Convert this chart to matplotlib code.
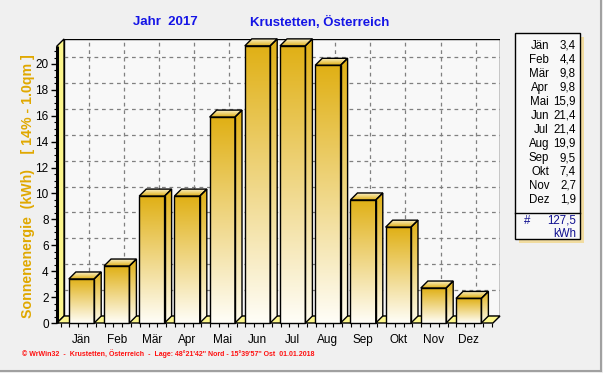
import matplotlib
matplotlib.use("Agg")
import matplotlib.pyplot as plt
import numpy as np
from matplotlib.patches import Polygon, Rectangle
from matplotlib.colors import LinearSegmentedColormap

plt.rcParams['font.family'] = ['Liberation Sans', 'DejaVu Sans']

# data
months = ['Jän', 'Feb', 'Mär', 'Apr', 'Mai', 'Jun', 'Jul', 'Aug', 'Sep', 'Okt', 'Nov', 'Dez']
values = [3.4, 4.4, 9.8, 9.8, 15.9, 21.4, 21.4, 19.9, 9.5, 7.4, 2.7, 1.9]
value_labels = ['3,4', '4,4', '9,8', '9,8', '15,9', '21,4', '21,4', '19,9', '9,5', '7,4', '2,7', '1,9']
total_label = '127,5'
yticks = [0, 2, 4, 6, 8, 10, 12, 14, 16, 18, 20]

W, H = 603, 373
GOLD = '#e0b015'
WALL = '#fcf68c'

fig = plt.figure(figsize=(W / 100, H / 100), dpi=100)
fig.patch.set_facecolor('#f0f0f0')


def fx(x):
    return x / W


def fy(y):
    return 1 - y / H


# axes covers back plane + front plane (pixels 57..500, 39..323)
x0, xmax = -0.696, 11.89
ytop = 21.93
dx, dy = 0.2, 0.54
ax = fig.add_axes([fx(57), fy(323), (500 - 57) / W, (323 - 39) / H])
ax.set_xlim(x0, xmax)
ax.set_ylim(0, ytop)
ax.patch.set_visible(False)
for s in ax.spines.values():
    s.set_visible(False)

# back plane
ax.add_patch(Rectangle((x0 + dx, dy), xmax - x0 - dx, ytop - dy, facecolor='#f8f8f8',
                       edgecolor='black', lw=1, zorder=0))
for v in yticks[1:]:
    ax.plot([x0 + dx, xmax], [v + dy, v + dy], color='#808080', lw=0.9, ls=(0, (3, 3)), zorder=1)
for i in range(len(months)):
    ax.plot([i + dx, i + dx], [dy, ytop], color='#808080', lw=0.9, ls=(0, (3, 3)), zorder=1)

# left wall and floor
ax.add_patch(Polygon([(x0, 0), (x0 + dx, dy), (x0 + dx, ytop), (x0, ytop - dy)],
                     closed=True, facecolor=WALL, edgecolor='black', lw=1, zorder=2, clip_on=False))
ax.add_patch(Polygon([(x0, 0), (xmax - dx, 0), (xmax, dy), (x0 + dx, dy)],
                     closed=True, facecolor=WALL, edgecolor='black', lw=1, zorder=2, clip_on=False))
ax.plot([x0, x0], [0, ytop - dy], color='black', lw=2.2, zorder=6, clip_on=False,
        solid_capstyle='butt')

grad = np.linspace(0, 1, 256).reshape(-1, 1)


def grad_face(verts, c_top, c_bot, z):
    poly = Polygon(verts, closed=True, facecolor='none', edgecolor='black', lw=1,
                   zorder=z + 0.5, clip_on=False)
    ax.add_patch(poly)
    xs = [p[0] for p in verts]
    ys = [p[1] for p in verts]
    cmap = LinearSegmentedColormap.from_list('g', [c_bot, c_top])
    im = ax.imshow(grad, extent=[min(xs), max(xs), min(ys), max(ys)], origin='lower',
                   cmap=cmap, aspect='auto', zorder=z, interpolation='bilinear')
    im.set_clip_box(None)
    im.set_clip_path(poly)


bw = 0.72
for i, v in enumerate(values):
    l, r = i - bw / 2, i + bw / 2
    z = 3 + i * 0.01
    grad_face([(r, 0), (r + dx, dy), (r + dx, v + dy), (r, v)], GOLD, '#fffdf0', z)
    grad_face([(l, 0), (r, 0), (r, v), (l, v)], GOLD, '#fffef8', z)
    grad_face([(l, v), (r, v), (r + dx, v + dy), (l + dx, v + dy)], '#faf0c8', GOLD, z)

ax.set_xlim(x0, xmax)
ax.set_ylim(0, ytop)

# axis ticks
ax.set_yticks(yticks)
ax.set_yticks(np.arange(0, 21.01, 0.5), minor=True)
ax.tick_params(axis='y', which='major', length=4, width=1, pad=2, labelsize=8.5)
ax.tick_params(axis='y', which='minor', length=2, width=0.8)
ax.set_xticks(range(len(months)), months)
ax.set_xticks(np.arange(x0 + 0.1, xmax - dx, 0.25), minor=True)
ax.tick_params(axis='x', which='major', length=0, pad=8, labelsize=8.5)
ax.tick_params(axis='x', which='minor', length=3, width=0.8)

# titles and labels
fig.text(fx(165), fy(22), 'Jahr  2017', color='#1414e6', fontsize=9.5, fontweight='bold',
         ha='center', va='center')
fig.text(fx(250), fy(22), 'Krustetten, Österreich', color='#1414e6', fontsize=9.5,
         fontweight='bold', ha='left', va='center')
fig.text(fx(28), fy(186), 'Sonnenenergie  (kWh)    [ 14% - 1.0qm ]', color='#e0a800',
         fontsize=10.2, fontweight='bold', rotation=90, ha='center', va='center')
fig.text(fx(22), fy(354), "© WrWin32  -  Krustetten, Österreich  -  Lage: 48°21'42'' Nord - 15°39'57'' Ost  01.01.2018",
         color='#ff1010', fontsize=5, fontweight='bold', ha='left', va='center')

# value list box
fig.patches.append(Rectangle((fx(519), fy(243)), 65 / W, 206 / H, transform=fig.transFigure,
                             facecolor='#f2d78c', edgecolor='none', alpha=0.8, zorder=1))
fig.patches.append(Rectangle((fx(515), fy(239)), 65 / W, 206 / H, transform=fig.transFigure,
                             facecolor='#f8f8f8', edgecolor='black', lw=1, zorder=2))
fig.lines.append(plt.Line2D([fx(515), fx(580)], [fy(213), fy(213)], transform=fig.transFigure,
                            color='black', lw=1, zorder=3))
for k, (m, s) in enumerate(zip(months, value_labels)):
    y = fy(46 + k * 14)
    fig.text(fx(549), y, m, fontsize=8.3, ha='right', va='center', zorder=4)
    fig.text(fx(576), y, s, fontsize=8.3, ha='right', va='center', zorder=4)
fig.text(fx(524), fy(221), '#', fontsize=8.3, color='#101090', ha='left', va='center', zorder=4)
fig.text(fx(576), fy(221), total_label, fontsize=8.3, color='#101090', ha='right', va='center', zorder=4)
fig.text(fx(576), fy(234), 'kWh', fontsize=8.3, color='#101090', ha='right', va='center', zorder=4)

# window frame
fig.lines.append(plt.Line2D([fx(601), fx(601)], [fy(0), fy(371)], transform=fig.transFigure,
                            color='#a0a0a0', lw=1.5))
fig.lines.append(plt.Line2D([fx(0), fx(601)], [fy(371), fy(371)], transform=fig.transFigure,
                            color='#a0a0a0', lw=1.5))

fig.savefig('out.png', dpi=100, facecolor=fig.get_facecolor())
